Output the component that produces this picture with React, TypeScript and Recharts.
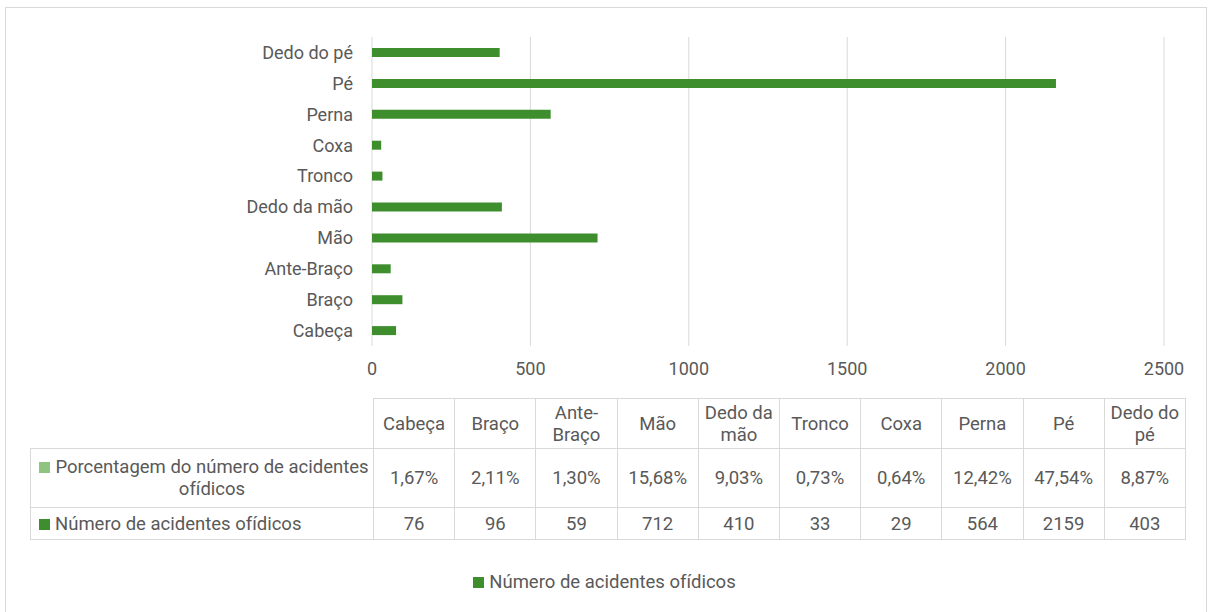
import React from 'react';
import { BarChart, Bar, XAxis, YAxis, CartesianGrid, Legend } from 'recharts';

const categories = ['Cabeça', 'Braço', 'Ante-Braço', 'Mão', 'Dedo da mão', 'Tronco', 'Coxa', 'Perna', 'Pé', 'Dedo do pé'];
const counts = [76, 96, 59, 712, 410, 33, 29, 564, 2159, 403];
const percentages = [1.67, 2.11, 1.3, 15.68, 9.03, 0.73, 0.64, 12.42, 47.54, 8.87];
const xTicks = [0, 500, 1000, 1500, 2000, 2500];
const seriesCount = 'Número de acidentes ofídicos';
const seriesPct = 'Porcentagem do número de acidentes ofídicos';

const BAR_COLOR = '#3f8e2e';
const PCT_COLOR = '#8fc480';
const TEXT = '#595959';
const GRID = '#d9d9d9';
const FONT = 'Roboto, "Noto Sans", sans-serif';

const data = categories.map((c, i) => ({ category: c, count: counts[i] }));

const fmtPct = (v: number) => v.toFixed(2).replace('.', ',') + '%';

const LegendContent = () => (
  <div style={{ display: 'flex', justifyContent: 'center', alignItems: 'center', fontFamily: FONT, fontSize: 18.5, color: TEXT }}>
    <span style={{ display: 'inline-block', width: 11, height: 11, background: BAR_COLOR, marginRight: 5 }} />
    <span>{seriesCount}</span>
  </div>
);

const cellBorder = `1px solid ${GRID}`;

const DataTable = () => {
  const colW = 81.2;
  const tdBase: React.CSSProperties = {
    border: cellBorder,
    textAlign: 'center',
    verticalAlign: 'middle',
    padding: '0 1px',
    lineHeight: '22px',
  };
  const rowLabel = (color: string, text: string) => (
    <div style={{ display: 'flex', alignItems: 'center', paddingLeft: 8, paddingRight: 4 }}>
      <span style={{ flex: '0 0 auto', width: 11, height: 11, background: color, marginRight: 5, alignSelf: 'flex-start', marginTop: 6 }} />
      <span style={{ textAlign: 'center' }}>{text}</span>
    </div>
  );
  return (
    <table
      style={{
        position: 'absolute',
        left: 30,
        top: 398,
        borderCollapse: 'collapse',
        tableLayout: 'fixed',
        width: 343 + colW * 10,
        fontFamily: FONT,
        fontSize: 18.5,
        color: TEXT,
      }}
    >
      <colgroup>
        <col style={{ width: 343 }} />
        {categories.map((c) => (
          <col key={c} style={{ width: colW }} />
        ))}
      </colgroup>
      <tbody>
        <tr style={{ height: 50 }}>
          <td style={{ border: 'none', borderBottom: cellBorder }} />
          {categories.map((c) => (
            <td key={c} style={tdBase}>{c}</td>
          ))}
        </tr>
        <tr style={{ height: 59 }}>
          <td style={{ ...tdBase, textAlign: 'left', padding: 0 }}>{rowLabel(PCT_COLOR, seriesPct)}</td>
          {percentages.map((p, i) => (
            <td key={i} style={tdBase}>{fmtPct(p)}</td>
          ))}
        </tr>
        <tr style={{ height: 32 }}>
          <td style={{ ...tdBase, textAlign: 'left', padding: 0 }}>{rowLabel(BAR_COLOR, seriesCount)}</td>
          {counts.map((v, i) => (
            <td key={i} style={tdBase}>{v}</td>
          ))}
        </tr>
      </tbody>
    </table>
  );
};

export default function App() {
  return (
    <div style={{ position: 'absolute', left: 0, top: 0, width: 1209, height: 612, overflow: 'hidden', background: '#ffffff', fontFamily: FONT }}>
      <div style={{ position: 'absolute', left: 5, top: 7, width: 1200, height: 640, border: `1px solid ${GRID}` }} />
      <div style={{ position: 'absolute', left: 0, top: 0 }}>
        <BarChart
          width={1209}
          height={612}
          data={data}
          layout="vertical"
          margin={{ top: 37, right: 45, bottom: 226, left: 0 }}
          barCategoryGap={11}
        >
          <CartesianGrid horizontal={false} stroke={GRID} strokeWidth={1} />
          <XAxis
            type="number"
            domain={[0, 2500]}
            ticks={xTicks}
            axisLine={false}
            tickLine={false}
            tickSize={0}
            tickMargin={16}
            height={40}
            tick={{ fill: TEXT, fontSize: 18, fontFamily: FONT }}
            interval={0}
          />
          <YAxis
            type="category"
            dataKey="category"
            reversed
            width={372}
            axisLine={false}
            tickLine={false}
            tickSize={0}
            tickMargin={19}
            tick={{ fill: TEXT, fontSize: 18, fontFamily: FONT }}
            interval={0}
          />
          <Bar dataKey="count" name={seriesCount} fill={BAR_COLOR} barSize={9} isAnimationActive={false} />
          <Legend
            layout="horizontal"
            verticalAlign="middle"
            align="center"
            content={<LegendContent />}
            wrapperStyle={{ top: 571, left: 0, width: 1209 }}
          />
        </BarChart>
      </div>
      <DataTable />
    </div>
  );
}
